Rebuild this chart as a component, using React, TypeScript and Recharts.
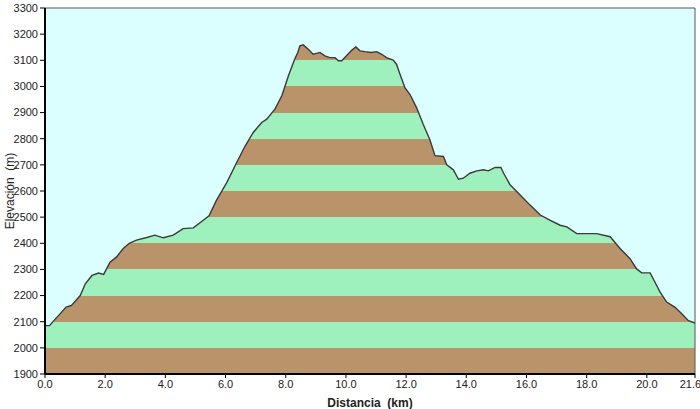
import {
  ComposedChart,
  Area,
  XAxis,
  YAxis,
  CartesianGrid,
  ReferenceLine,
  Label
} from "recharts";

// perfil: distancia (km) y elevación (m)
const distancias = [
  0.0, 0.15, 0.31, 0.5, 0.7, 0.88, 1.17, 1.34, 1.56, 1.78, 1.95, 2.16, 2.38, 2.6, 2.8,
  3.04, 3.38, 3.65, 3.93, 4.26, 4.59, 4.93, 5.26, 5.45, 5.7, 6.04, 6.37, 6.65, 6.92,
  7.2, 7.37, 7.64, 7.87, 8.09, 8.3, 8.4, 8.47, 8.58, 8.75, 8.91, 9.14, 9.3, 9.47, 9.64,
  9.75, 9.86, 10.02, 10.19, 10.33, 10.47, 10.63, 10.85, 11.02, 11.19, 11.35, 11.57,
  11.68, 11.8, 11.96, 12.13, 12.35, 12.57, 12.79, 12.96, 13.24, 13.35, 13.57, 13.74,
  13.9, 14.12, 14.35, 14.57, 14.73, 14.96, 15.15, 15.24, 15.46, 15.79, 16.12, 16.46,
  16.79, 17.12, 17.34, 17.67, 18.0, 18.33, 18.78, 19.11, 19.44, 19.66, 19.83, 20.11,
  20.27, 20.44, 20.66, 20.94, 21.16, 21.38, 21.6
];

const elevaciones = [
  2085, 2085, 2106, 2130, 2156, 2162, 2200, 2245, 2277, 2286, 2281, 2328, 2348, 2380, 2400,
  2412, 2422, 2431, 2421, 2431, 2456, 2459, 2488, 2505, 2565, 2632, 2709, 2772, 2824,
  2862, 2875, 2913, 2964, 3041, 3105, 3130, 3155, 3159, 3142, 3123, 3130, 3117, 3110, 3110,
  3098, 3098, 3117, 3138, 3151, 3136, 3133, 3130, 3133, 3123, 3110, 3101,
  3085, 3046, 2995, 2969, 2918, 2854, 2796, 2735, 2732, 2700, 2681, 2645,
  2649, 2668, 2677, 2681, 2677, 2690, 2690, 2668, 2623, 2585, 2546, 2508,
  2488, 2469, 2463, 2437, 2437, 2437, 2425, 2380, 2341, 2302, 2287, 2287,
  2251, 2213, 2175, 2155, 2130, 2104, 2095
];

const ticksX = [0, 2, 4, 6, 8, 10, 12, 14, 16, 18, 20, 21.6];
const ticksY = [1900, 2000, 2100, 2200, 2300, 2400, 2500, 2600, 2700, 2800, 2900, 3000, 3100, 3200, 3300];

const data = distancias.map((km, i) => ({ km, elev: elevaciones[i] }));

const familia = "Liberation Sans, Arial, sans-serif";
const fuente = { fontSize: 11, fill: "#222", fontFamily: familia };

export default function App() {
  return (
    <div style={{ position: "absolute", left: 0, top: 0, background: "#fff" }}>
      <ComposedChart
        width={700}
        height={409}
        data={data}
        margin={{ top: 8, right: 5, left: 0, bottom: 0 }}
      >
        <CartesianGrid
          vertical={false}
          stroke="none"
          horizontalFill={["#9ef0bc", "#b99369"]}
        />
        <XAxis
          dataKey="km"
          type="number"
          domain={[0, 21.6]}
          ticks={ticksX}
          tickFormatter={(v: number) => v.toFixed(1)}
          tick={fuente}
          tickSize={4}
          height={35}
          axisLine={{ stroke: "#000", strokeWidth: 2 }}
          tickLine={{ stroke: "#000" }}
        >
          <Label
            value={"Distancia\u00a0\u00a0(km)"}
            position="insideBottom"
            offset={2}
            style={{ fontSize: 12, fontWeight: "bold", fill: "#222", fontFamily: familia }}
          />
        </XAxis>
        <YAxis
          type="number"
          domain={[1900, 3300]}
          ticks={ticksY}
          interval={0}
          tick={fuente}
          tickSize={5}
          width={45}
          axisLine={{ stroke: "#000", strokeWidth: 2 }}
          tickLine={{ stroke: "#000" }}
        >
          <Label
            value={"Elevación\u00a0\u00a0(m)"}
            angle={-90}
            position="insideLeft"
            offset={10}
            style={{ textAnchor: "middle", fontSize: 12, fill: "#222", fontFamily: familia }}
          />
        </YAxis>
        <Area
          type="linear"
          dataKey="elev"
          baseValue={3300}
          fill="#dbffff"
          fillOpacity={1}
          stroke="#3a3a3a"
          strokeWidth={1.4}
          dot={false}
          activeDot={false}
          isAnimationActive={false}
        />
        <ReferenceLine y={3300} stroke="#555" strokeWidth={1} />
        <ReferenceLine x={21.6} stroke="#555" strokeWidth={1} />
      </ComposedChart>
    </div>
  );
}
